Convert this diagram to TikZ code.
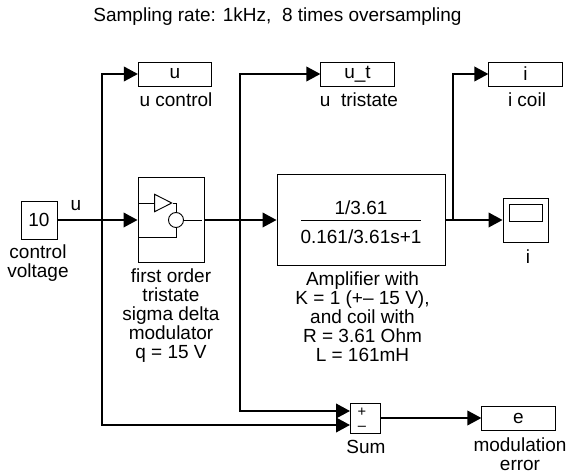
\documentclass[tikz,border=0pt]{standalone}
\usepackage{fontspec}
\setmainfont{Liberation Sans}
\usetikzlibrary{arrows.meta,shapes.geometric}
\tikzstyle{sfunc}=[draw, line width=0.7pt, inner sep=0pt]
\tikzstyle{wire}=[-{Triangle[length=10.5pt,width=11pt]}, line width=1.3pt]
\tikzstyle{bus}=[line width=2.2pt]
\tikzstyle{inner}=[line width=0.7pt]
\tikzstyle{lbl}=[align=center, inner sep=0pt, font=\fontsize{14.25}{14.25}\selectfont]

\begin{document}
\begin{tikzpicture}[x=0.75pt,y=-0.75pt]
\useasboundingbox (0,0) rectangle (567,473);
\node[lbl] (title) at (277.5,17) {Sampling rate: 1kHz,\ \ 8 times oversampling};
\node[sfunc,lbl,minimum width=27pt,minimum height=28.5pt] (src) at (39,220) {10};
\node[sfunc,minimum width=49.5pt,minimum height=64pt] (sigma) at (171,220) {};
\node[sfunc,minimum width=126pt,minimum height=68.25pt] (amp) at (361,220) {};
\node[sfunc,minimum width=33.75pt,minimum height=33pt] (scope) at (525.5,220) {};
\node[sfunc,minimum width=24.75pt,minimum height=12.75pt] (screen) at (525.5,212.5) {};
\node[sfunc,lbl,minimum width=55pt,minimum height=18pt] (uOut) at (175,74) {u};
\node[sfunc,lbl,minimum width=55pt,minimum height=18pt] (utOut) at (357.5,74) {u\_t};
\node[sfunc,lbl,minimum width=55pt,minimum height=18pt] (iOut) at (525.5,74) {i};
\node[sfunc,lbl,minimum width=55pt,minimum height=18pt] (eOut) at (518.5,418) {e};
\node[sfunc,minimum width=22.5pt,minimum height=22.5pt] (sum) at (365,418) {};
\node[lbl,font=\fontsize{11}{12}\selectfont] (plus) at (362,412) {+};
\node[lbl,font=\fontsize{11}{12}\selectfont] (minus) at (362,428) {--};
\node[lbl] (frNum) at (361,208) {1/3.61};
\node[lbl] (frDen) at (361,237) {0.161/3.61s+1};
\node[lbl] (uName) at (76,206) {u};
\node[lbl] (srcName) at (38,263) {control\\voltage};
\node[lbl] (sigmaName) at (171,315.5) {first order\\tristate\\sigma delta\\modulator\\q = 15 V};
\node[lbl] (ampName) at (362.5,317) {Amplifier with\\K = 1 (+-- 15 V),\\and coil with\\R = 3.61 Ohm\\L = 161mH};
\node[lbl] (uLbl) at (176,100) {u control};
\node[lbl] (utLbl) at (359,100) {u\ \ tristate};
\node[lbl] (iLbl) at (527,100) {i coil};
\node[lbl] (scopeName) at (528,257) {i};
\node[lbl] (sumName) at (366,447) {Sum};
\node[lbl] (eName) at (520,454) {modulation\\error};
% tristate symbol inside the block
\node[draw,inner,isosceles triangle,isosceles triangle apex angle=54,inner sep=0pt,minimum height=12.75pt] (amp1) at (160,203) {};
\node[draw,inner,circle,inner sep=0pt,minimum size=11.25pt] (cmp) at (176,220) {};
\coordinate (sigIn) at (138,203);\coordinate (sigFb) at (138,237);\coordinate (sigOut) at (202,220);
\draw[inner](sigIn)--(amp1.west);\draw[inner](amp1.east)-|(cmp.north);
\draw[inner](sigFb)-|(cmp.south);\draw[inner](cmp.east)--(sigOut);
% fraction bar
\coordinate (barL) at (301,220);\coordinate (barR) at (421,220);
\draw[inner](barL)--(barR);
% junctions
\coordinate (uJ) at (102,220);
\coordinate (tJ) at (240,220);
\coordinate (iJ) at (453,220);
\coordinate (sumP) at (350,411);
\coordinate (sumM) at (350,425);
\draw[wire](src)--(sigma);\draw[bus](src)--(uJ);
\draw[wire](sigma)--(amp);\draw[bus](sigma)--(tJ);
\draw[wire](amp)--(scope);\draw[bus](amp)--(iJ);
\draw[wire](uJ)|-(uOut);\draw[wire](tJ)|-(utOut);\draw[wire](iJ)|-(iOut);
\draw[wire](uJ)|-(sumM);\draw[wire](tJ)|-(sumP);
\draw[wire](sum)--(eOut);
\end{tikzpicture}
\end{document}
